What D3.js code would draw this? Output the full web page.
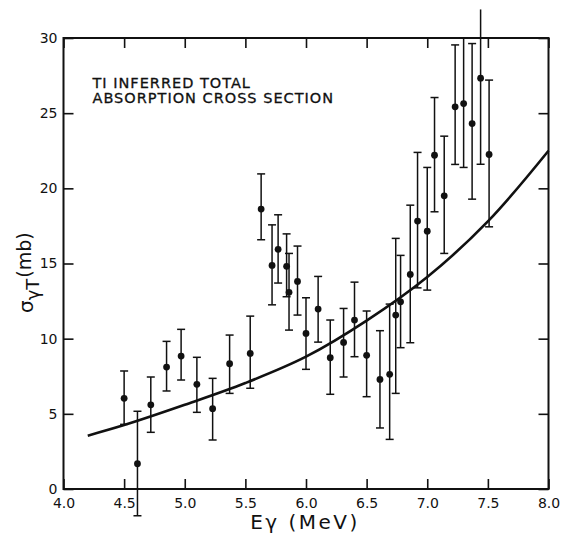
<!DOCTYPE html>
<html>
<head>
<meta charset="utf-8">
<script src="https://cdnjs.cloudflare.com/ajax/libs/d3/7.8.5/d3.min.js"></script>
<style>
  body { margin: 0; background: #fff; }
  text { font-family: "DejaVu Sans", sans-serif; fill: #111; }
</style>
</head>
<body>
<div id="chart"></div>
<script>
// measured points: energy (MeV), cross section (mb), error bar top / bottom
var energy = [4.50, 4.61, 4.72, 4.85, 4.97, 5.10, 5.23, 5.37, 5.54, 5.63,
              5.72, 5.77, 5.84, 5.86, 5.93, 6.00, 6.10, 6.20, 6.31, 6.40,
              6.50, 6.61, 6.69, 6.74, 6.78, 6.86, 6.92, 7.00, 7.06, 7.14,
              7.23, 7.30, 7.37, 7.44, 7.51];
var sigma  = [6.03, 1.68, 5.60, 8.11, 8.84, 6.96, 5.34, 8.33, 9.02, 18.62,
              14.87, 15.94, 14.81, 13.08, 13.81, 10.35, 11.97, 8.73, 9.75, 11.24,
              8.89, 7.29, 7.63, 11.57, 12.45, 14.27, 17.82, 17.15, 22.20, 19.50,
              25.42, 25.64, 24.31, 27.33, 22.25];
var errTop = [7.85, 5.17, 7.45, 9.82, 10.62, 8.76, 7.36, 10.24, 11.50, 20.96,
              17.57, 18.24, 16.97, 15.67, 16.16, 12.72, 14.14, 11.24, 12.01, 13.76,
              11.84, 10.53, 12.30, 16.67, 15.54, 18.88, 22.39, 21.39, 26.04, 23.47,
              29.54, 30.00, 29.63, 31.90, 27.20];
var errBot = [4.30, -1.78, 3.77, 6.52, 7.25, 5.10, 3.26, 6.36, 6.70, 16.58,
              12.25, 13.70, 12.79, 10.57, 11.57, 7.96, 9.77, 6.30, 7.45, 8.80,
              6.14, 4.06, 3.30, 6.36, 9.40, 9.73, 13.38, 13.23, 18.44, 15.67,
              21.59, 21.39, 19.28, 21.60, 17.44];

// smooth curve
var curveE = [4.2, 4.5, 5.0, 5.5, 6.0, 6.5, 7.0, 7.5, 8.0];
var curveS = [3.55, 4.25, 5.6, 7.05, 8.8, 11.2, 14.1, 17.8, 22.5];

var xTicks = [4.0, 4.5, 5.0, 5.5, 6.0, 6.5, 7.0, 7.5, 8.0];
var yTicks = [0, 5, 10, 15, 20, 25, 30];

var svgWidth = 566, svgHeight = 540;
var margin = {top: 38, right: 17.5, bottom: 51, left: 63.5};
var width = svgWidth - margin.left - margin.right;
var height = svgHeight - margin.top - margin.bottom;

var svg = d3.select("#chart").append("svg")
    .attr("width", svgWidth)
    .attr("height", svgHeight);
var chart = svg.append("g")
    .attr("transform", "translate(" + margin.left + "," + margin.top + ")");

var x = d3.scaleLinear().domain([4, 8]).range([0, width]);
var y = d3.scaleLinear().domain([0, 30]).range([height, 0]);

// axes with inward ticks
chart.append("g")
    .attr("transform", "translate(0," + height + ")")
    .call(d3.axisBottom(x).tickValues(xTicks).tickFormat(d3.format(".1f"))
        .tickSize(-10).tickPadding(9))
    .call(g => g.select(".domain").remove())
    .call(g => g.selectAll("text").style("font-size", "14px").style("font-family", "DejaVu Sans"));
chart.append("g")
    .call(d3.axisTop(x).tickValues(xTicks).tickSize(-10).tickFormat(""))
    .call(g => g.select(".domain").remove());
chart.append("g")
    .call(d3.axisLeft(y).tickValues(yTicks).tickSize(-10).tickPadding(6))
    .call(g => g.select(".domain").remove())
    .call(g => g.selectAll("text").style("font-size", "14px").style("font-family", "DejaVu Sans"));
chart.append("g")
    .attr("transform", "translate(" + width + ",0)")
    .call(d3.axisRight(y).tickValues(yTicks).tickSize(-10).tickFormat(""))
    .call(g => g.select(".domain").remove());
chart.selectAll(".tick line").attr("stroke", "#111").attr("stroke-width", 1.6);
chart.selectAll(".tick text").attr("fill", "#111");

chart.append("rect")
    .attr("width", width)
    .attr("height", height)
    .attr("fill", "none")
    .attr("stroke", "#111")
    .attr("stroke-width", 2);

// curve
var curveData = curveE.map((e, i) => [e, curveS[i]]);
chart.append("path")
    .datum(curveData)
    .attr("fill", "none")
    .attr("stroke", "#111")
    .attr("stroke-width", 2.6)
    .attr("d", d3.line().x(d => x(d[0])).y(d => y(d[1])).curve(d3.curveCatmullRom));

// error bars
var pts = energy.map((e, i) => ({e: e, s: sigma[i], hi: errTop[i], lo: errBot[i]}));
var bars = chart.append("g").attr("stroke", "#111").attr("stroke-width", 1.5);
bars.selectAll(".eb").data(pts).enter().append("line")
    .attr("x1", d => x(d.e)).attr("x2", d => x(d.e))
    .attr("y1", d => y(d.hi)).attr("y2", d => y(d.lo));
bars.selectAll(".capT").data(pts.filter(d => d.hi < 31)).enter().append("line")
    .attr("x1", d => x(d.e) - 4).attr("x2", d => x(d.e) + 4)
    .attr("y1", d => y(d.hi)).attr("y2", d => y(d.hi));
bars.selectAll(".capB").data(pts).enter().append("line")
    .attr("x1", d => x(d.e) - 4).attr("x2", d => x(d.e) + 4)
    .attr("y1", d => y(d.lo)).attr("y2", d => y(d.lo));

chart.selectAll("circle").data(pts).enter().append("circle")
    .attr("cx", d => x(d.e))
    .attr("cy", d => y(d.s))
    .attr("r", 3.4)
    .attr("fill", "#111");

// title
var title = chart.append("text")
    .style("font-size", "14.5px")
    .style("letter-spacing", "1px")
    .attr("stroke", "#111")
    .attr("stroke-width", 0.3);
title.append("tspan").attr("x", 29).attr("y", 50).text("TI INFERRED TOTAL");
title.append("tspan").attr("x", 29).attr("y", 65).text("ABSORPTION CROSS SECTION");

// axis labels
svg.append("text")
    .attr("x", 305)
    .attr("y", 529)
    .attr("text-anchor", "middle")
    .style("font-size", "20px")
    .style("letter-spacing", "2.5px")
    .text("Eγ (MeV)");

var yl = svg.append("text")
    .attr("transform", "translate(33,313) rotate(-90)")
    .style("font-size", "20px");
yl.append("tspan").text("σ");
yl.append("tspan").attr("dy", 6).style("font-size", "18px").text("γT");
yl.append("tspan").attr("dy", -8).attr("dx", 1).style("font-size", "19px").text("(mb)");
</script>
</body>
</html>
